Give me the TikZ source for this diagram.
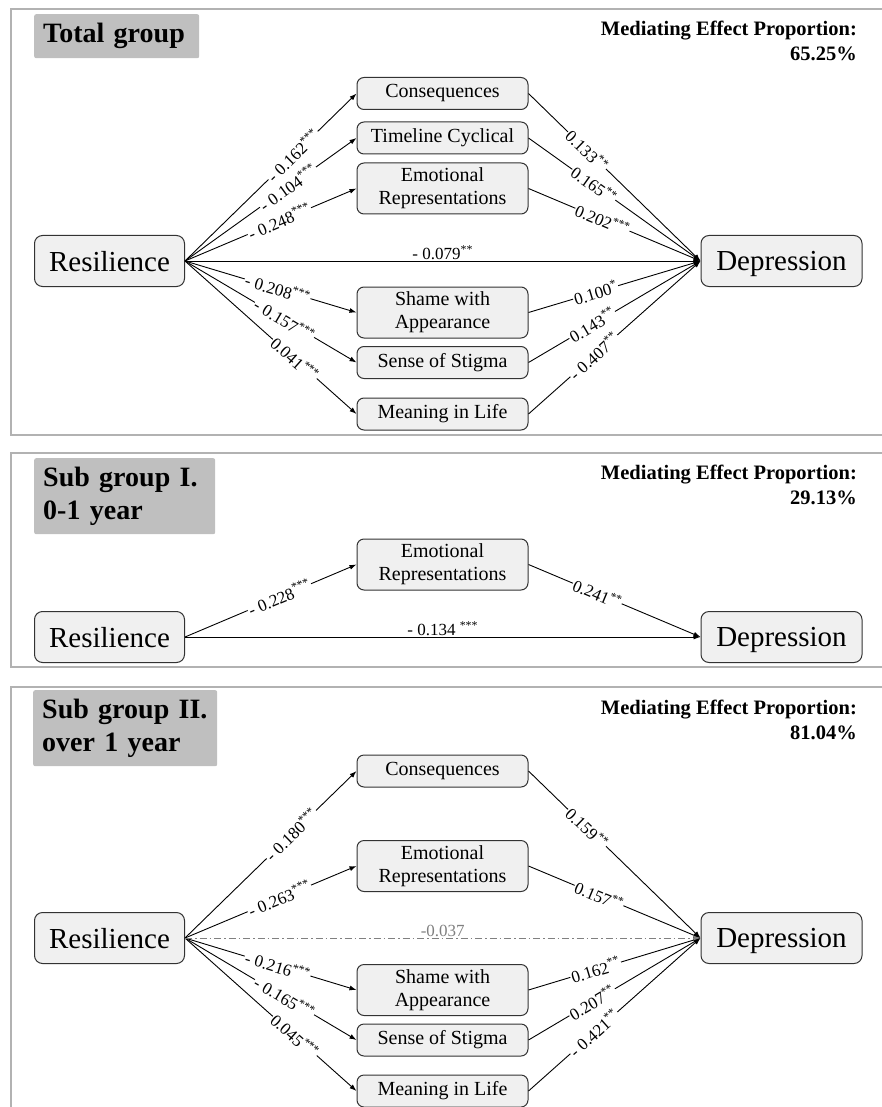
\documentclass[tikz,border=0pt]{standalone}
\usepackage{fontspec}
\setmainfont{Liberation Serif}
\usetikzlibrary{positioning,arrows.meta,calc}

\tikzset{
  frame/.style={draw=black!30, line width=1.5pt},
  grouplabel/.style={fill=black!25, rounded corners=2pt, anchor=north west, align=left,
    inner xsep=9pt, font=\bfseries\fontsize{28}{33}\selectfont},
  effect/.style={anchor=east, align=right, inner sep=0pt, font=\bfseries\fontsize{20.5}{25}\selectfont},
  var/.style={draw=black!80, fill=black!6, rounded corners=8pt, line width=1pt,
    minimum height=51pt, inner sep=0pt, text depth=0pt, font=\fontsize{29}{32}\selectfont},
  med/.style={draw=black!80, fill=black!6, rounded corners=7pt, line width=1pt,
    minimum width=171pt, minimum height=32pt, inner sep=1pt, align=center,
    font=\fontsize{20}{23}\selectfont},
  medtwo/.style={med, minimum height=51pt},
  link/.style={-{Latex[length=7pt,width=5pt]}, line width=0.9pt},
  coef/.style={sloped, fill=white, inner sep=1pt, font=\fontsize{17}{17}\selectfont},
}

\begin{document}
\begin{tikzpicture}[x=1pt, y=-1pt]
\useasboundingbox (0,0) rectangle (881,1107);
%
% panel frames
\draw[frame] (11,9) rectangle (900,435);
\draw[frame] (11,453) rectangle (900,667);
\draw[frame] (11,687) rectangle (900,1130);
%
% ---- total group
\node[grouplabel, text width=147pt, minimum height=44pt] (titleA) at (34,14) {Total group};
\node[effect] (propA) at (857,40.5) {Mediating Effect Proportion:\\65.25\%};
\node[var, minimum width=150pt] (resA) at (109.5,261) {Resilience};
\node[var, minimum width=161pt] (depA) at (781.5,261) {Depression};
\node[med]    (consA)  at (442.5,93.5)  {Consequences};
\node[med]    (timeA)  at (442.5,138)   {Timeline Cyclical};
\node[medtwo] (emoA)   at (442.5,188.5) {Emotional\\Representations};
\node[medtwo] (shameA) at (442.5,312.5) {Shame with\\Appearance};
\node[med]    (stigA)  at (442.5,362.5) {Sense of Stigma};
\node[med]    (meanA)  at (442.5,414)   {Meaning in Life};
%
\foreach \m in {consA,timeA,emoA,shameA,stigA,meanA} {
  \draw[link] (resA.east) -- (\m.west);
  \draw[link] (\m.east) -- (depA.west);
}
\draw[link] (resA) -- node[coef, above, fill=none] {- 0.079\textsuperscript{**}} (depA);
\foreach \m/\p/\t in {consA/0.63/{- 0.162\textsuperscript{***}}, timeA/0.60/{- 0.104\textsuperscript{***}},
    emoA/0.55/{- 0.248\textsuperscript{***}}, shameA/0.54/{- 0.208\textsuperscript{***}},
    stigA/0.58/{- 0.157\textsuperscript{***}}, meanA/0.64/{0.041\textsuperscript{***}}}
  \path (resA.east) -- node[coef, pos=\p] {\t} (\m.west);
\foreach \m/\p/\t in {consA/0.34/{0.133\textsuperscript{**}}, timeA/0.38/{0.165\textsuperscript{**}},
    emoA/0.43/{0.202\textsuperscript{***}}, shameA/0.39/{0.100\textsuperscript{*}},
    stigA/0.37/{0.143\textsuperscript{**}}, meanA/0.38/{- 0.407\textsuperscript{**}}}
  \path (\m.east) -- node[coef, pos=\p] {\t} (depA.west);
%
% ---- sub group I
\node[grouplabel, text width=163pt, minimum height=76pt] (titleB) at (34,458) {Sub group I.\\0-1 year};
\node[effect] (propB) at (857,485) {Mediating Effect Proportion:\\29.13\%};
\node[var, minimum width=150pt] (resB) at (109.5,637) {Resilience};
\node[var, minimum width=161pt] (depB) at (781.5,637) {Depression};
\node[medtwo] (emoB) at (442.5,564.5) {Emotional\\Representations};
%
\draw[link] (resB.east) -- (emoB.west);
\draw[link] (emoB.east) -- (depB.west);
\draw[link] (resB) -- node[coef, above, fill=none] {- 0.134 \textsuperscript{***}} (depB);
\path (resB.east) -- node[coef, pos=0.55] {- 0.228\textsuperscript{***}} (emoB.west);
\path (emoB.east) -- node[coef, pos=0.40] {0.241\textsuperscript{**}} (depB.west);
%
% ---- sub group II
\node[grouplabel, text width=166pt, minimum height=76pt] (titleC) at (33,690) {Sub group II.\\over 1 year};
\node[effect] (propC) at (857,719.5) {Mediating Effect Proportion:\\81.04\%};
\node[var, minimum width=150pt] (resC) at (109.5,938) {Resilience};
\node[var, minimum width=161pt] (depC) at (781.5,938) {Depression};
\node[med]    (consC)  at (442.5,771)  {Consequences};
\node[medtwo] (emoC)   at (442.5,866)  {Emotional\\Representations};
\node[medtwo] (shameC) at (442.5,990)  {Shame with\\Appearance};
\node[med]    (stigC)  at (442.5,1040) {Sense of Stigma};
\node[med]    (meanC)  at (442.5,1091) {Meaning in Life};
%
\foreach \m in {consC,emoC,shameC,stigC,meanC} {
  \draw[link] (resC.east) -- (\m.west);
  \draw[link] (\m.east) -- (depC.west);
}
\draw[link, dash pattern=on 7pt off 3pt on 1.5pt off 3pt, draw=black!50]
  (resC) -- node[coef, above, fill=none, text=black!50] {-0.037} (depC);
\foreach \m/\p/\t in {consC/0.62/{- 0.180\textsuperscript{***}}, emoC/0.55/{- 0.263\textsuperscript{***}},
    shameC/0.54/{- 0.216\textsuperscript{***}}, stigC/0.58/{- 0.165\textsuperscript{***}},
    meanC/0.64/{0.045\textsuperscript{***}}}
  \path (resC.east) -- node[coef, pos=\p] {\t} (\m.west);
\foreach \m/\p/\t in {consC/0.34/{0.159\textsuperscript{**}}, emoC/0.41/{0.157\textsuperscript{**}},
    shameC/0.39/{0.162\textsuperscript{**}}, stigC/0.37/{0.207\textsuperscript{**}},
    meanC/0.38/{- 0.421\textsuperscript{**}}}
  \path (\m.east) -- node[coef, pos=\p] {\t} (depC.west);
\end{tikzpicture}
\end{document}
